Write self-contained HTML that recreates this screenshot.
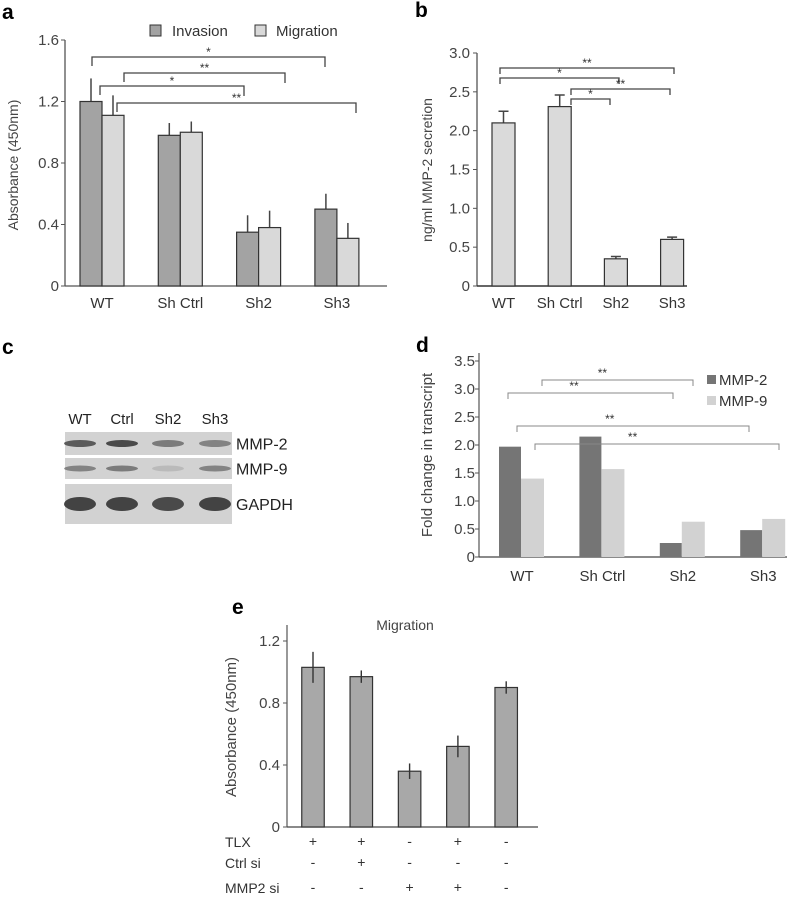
<!DOCTYPE html>
<html><head><meta charset="utf-8"><style>
body{margin:0;background:#fff}
svg{display:block;font-family:"Liberation Sans",sans-serif}
</style></head><body>
<svg id="fig" width="794" height="900" viewBox="0 0 794 900">
<g fill="#000" font-weight="bold" font-size="21">
<text x="2" y="19">a</text>
<text x="415" y="17">b</text>
<text x="2" y="354">c</text>
<text x="416" y="352">d</text>
<text x="232" y="614">e</text>
</g>
<g id="ga"></g>
<g id="gb"></g>
<g id="gc"></g>
<g id="gd"></g>
<g id="ge"></g>
</svg>
<script>
// Panel a data
const aCategories=["WT","Sh Ctrl","Sh2","Sh3"];
const aInvasion=[1.2,0.98,0.35,0.5];
const aInvasionErr=[0.15,0.08,0.11,0.1];
const aMigration=[1.11,1.0,0.38,0.31];
const aMigrationErr=[0.13,0.07,0.11,0.1];
const aTicks=[0,0.4,0.8,1.2,1.6];
// Panel b data
const bCategories=["WT","Sh Ctrl","Sh2","Sh3"];
const bValues=[2.1,2.31,0.35,0.6];
const bErr=[0.15,0.15,0.03,0.03];
const bTicks=[0,0.5,1.0,1.5,2.0,2.5,3.0];
// Panel d data
const dCategories=["WT","Sh Ctrl","Sh2","Sh3"];
const dMMP2=[1.97,2.15,0.25,0.48];
const dMMP9=[1.4,1.57,0.63,0.68];
const dTicks=[0,0.5,1.0,1.5,2.0,2.5,3.0,3.5];
// Panel e data
const eValues=[1.03,0.97,0.36,0.52,0.9];
const eErr=[0.1,0.04,0.05,0.07,0.04];
const eTicks=[0,0.4,0.8,1.2];
const eTLX=["+","+","-","+","-"];
const eCtrl=["-","+","-","-","-"];
const eMMP2=["-","-","+","+","-"];

const NS="http://www.w3.org/2000/svg";
function mk(parent,tag,attrs,text){const e=document.createElementNS(NS,tag);for(const k in attrs)e.setAttribute(k,attrs[k]);if(text!==undefined)e.textContent=text;parent.appendChild(e);return e;}
function fmt(v,d){return v===0?"0":v.toFixed(d);}

// ---------- Panel a ----------
(function(){
const g=document.getElementById('ga');
const x0=65,x1=387,yTop=40,yBot=286,vmax=1.6;
const y=v=>yBot-(v/vmax)*(yBot-yTop);
const cx=i=>102+i*78.3;
let l=mk(g,'line',{x1:x0,y1:yTop,x2:x0,y2:yBot,stroke:'#555','stroke-width':1.3});

l=mk(g,'line',{x1:x0,y1:yBot,x2:x1,y2:yBot,stroke:'#555','stroke-width':1.3});

aTicks.forEach(t=>{
 mk(g,'line',{x1:x0-4,y1:y(t),x2:x0,y2:y(t),stroke:'#555'});
 const tx=mk(g,'text',{x:x0-6,y:y(t)+5,'text-anchor':'end','font-size':15,fill:'#444'},fmt(t,1));
 
});
const yt=mk(g,'text',{x:0,y:0,transform:'translate(18,165) rotate(-90)','text-anchor':'middle','font-size':14,fill:'#444'},'Absorbance (450nm)');

aCategories.forEach((c,i)=>{
 const bw=22;
 [[aInvasion,aInvasionErr,'#a3a3a3',-bw,'invasion'],[aMigration,aMigrationErr,'#d9d9d9',0,'migration']].forEach(s=>{
  const v=s[0][i],e=s[1][i];
  const ex=cx(i)+s[3]+bw/2;
  const el=mk(g,'line',{x1:ex,y1:y(v),x2:ex,y2:y(v+e),stroke:'#444','stroke-width':1.5});
  
  const r=mk(g,'rect',{x:cx(i)+s[3],y:y(v),width:bw,height:yBot-y(v),fill:s[2],stroke:'#333','stroke-width':1.2});
  
 });
 const t=mk(g,'text',{x:cx(i),y:308,'text-anchor':'middle','font-size':15,fill:'#333'},c);
 
});
[[57,92,325,'*'],[73,124,285,'**'],[86,100,244,'*'],[103,117,356,'**']].forEach(b=>{
 const p=mk(g,'path',{d:`M${b[1]},${b[0]+9}V${b[0]}H${b[2]}V${b[0]+10}`,fill:'none',stroke:'#444','stroke-width':1.3});
 
 mk(g,'text',{x:(b[1]+b[2])/2,y:b[0]-1,'text-anchor':'middle','font-size':12,fill:'#333'},b[3]);
});
let lg=mk(g,'rect',{x:150,y:25,width:11,height:11,fill:'#a3a3a3',stroke:'#333'});

mk(g,'text',{x:172,y:36,'font-size':15,fill:'#333'},'Invasion');
lg=mk(g,'rect',{x:255,y:25,width:11,height:11,fill:'#d9d9d9',stroke:'#333'});

mk(g,'text',{x:276,y:36,'font-size':15,fill:'#333'},'Migration');
})();

// ---------- Panel b ----------
(function(){
const g=document.getElementById('gb');
const x0=477,x1=687,yTop=53,yBot=286,vmax=3.0;
const y=v=>yBot-(v/vmax)*(yBot-yTop);
const cx=i=>503.5+i*56.2;
let l=mk(g,'line',{x1:x0,y1:yTop,x2:x0,y2:yBot,stroke:'#555','stroke-width':1.3});

l=mk(g,'line',{x1:x0,y1:yBot,x2:x1,y2:yBot,stroke:'#333','stroke-width':1.6});

bTicks.forEach(t=>{
 mk(g,'line',{x1:x0-4,y1:y(t),x2:x0,y2:y(t),stroke:'#555'});
 const tx=mk(g,'text',{x:x0-7,y:y(t)+5,'text-anchor':'end','font-size':15,fill:'#444'},fmt(t,1));
 
});
const yt=mk(g,'text',{x:0,y:0,transform:'translate(432,170) rotate(-90)','text-anchor':'middle','font-size':14,fill:'#444'},'ng/ml MMP-2 secretion');

bCategories.forEach((c,i)=>{
 const v=bValues[i],e=bErr[i],bw=23,xc=cx(i);
 const el=mk(g,'path',{d:`M${xc},${y(v)}V${y(v+e)}M${xc-5},${y(v+e)}H${xc+5}`,stroke:'#444','stroke-width':1.5,fill:'none'});
 
 const r=mk(g,'rect',{x:xc-bw/2,y:y(v),width:bw,height:yBot-y(v),fill:'#dadada',stroke:'#333','stroke-width':1.2});
 
 const t=mk(g,'text',{x:xc,y:308,'text-anchor':'middle','font-size':15,fill:'#333'},c);
 
});
[[68,500,674,'**'],[78,500,619,'*'],[89,571,670,'**'],[99,571,610,'*']].forEach(b=>{
 const p=mk(g,'path',{d:`M${b[1]},${b[0]+6}V${b[0]}H${b[2]}V${b[0]+6}`,fill:'none',stroke:'#444','stroke-width':1.3});
 
 mk(g,'text',{x:(b[1]+b[2])/2,y:b[0]-1,'text-anchor':'middle','font-size':12,fill:'#333'},b[3]);
});
})();

// ---------- Panel c (blot) ----------
(function(){
const g=document.getElementById('gc');
const lanes=["WT","Ctrl","Sh2","Sh3"];
const laneX=[80,122,168,215];
lanes.forEach((n,i)=>{const t=mk(g,'text',{x:laneX[i],y:424,'text-anchor':'middle','font-size':15,fill:'#222'},n);
 });
const rows=[["MMP-2",432,455,[0.75,0.85,0.55,0.5],3.5],["MMP-9",458,479,[0.5,0.55,0.15,0.5],3],["GAPDH",484,524,[0.9,0.9,0.85,0.9],7]];
rows.forEach(r=>{
 const bx=mk(g,'rect',{x:65,y:r[1],width:167,height:r[2]-r[1],fill:'#d2d2d2'});
 
 const cy=(r[1]+r[2])/2;
 laneX.forEach((x,i)=>{mk(g,'ellipse',{cx:x,cy:cy,rx:16,ry:r[4],fill:'#333','opacity':r[3][i]});});
 const t=mk(g,'text',{x:236,y:cy+6,'font-size':16,fill:'#222'},r[0]);
 
});
})();

// ---------- Panel d ----------
(function(){
const g=document.getElementById('gd');
const x0=479,x1=787,yTop=361,yBot=557,vmax=3.5;
const y=v=>yBot-(v/vmax)*(yBot-yTop);
const cx=i=>521+i*80.4;
let l=mk(g,'line',{x1:x0,y1:yTop-8,x2:x0,y2:yBot,stroke:'#555','stroke-width':1.2});

l=mk(g,'line',{x1:x0,y1:yBot,x2:x1,y2:yBot,stroke:'#444','stroke-width':1.3});

dTicks.forEach(t=>{
 mk(g,'line',{x1:x0-4,y1:y(t),x2:x0,y2:y(t),stroke:'#555'});
 const tx=mk(g,'text',{x:x0-4,y:y(t)+5,'text-anchor':'end','font-size':15,fill:'#444'},fmt(t,1));
 
});
const yt=mk(g,'text',{x:0,y:0,transform:'translate(432,455) rotate(-90)','text-anchor':'middle','font-size':15,fill:'#444'},'Fold change in transcript');

dCategories.forEach((c,i)=>{
 const bw=22;
 let r=mk(g,'rect',{x:cx(i)-bw,y:y(dMMP2[i]),width:bw,height:yBot-y(dMMP2[i]),fill:'#757575'});
 
 r=mk(g,'rect',{x:cx(i),y:y(dMMP9[i]),width:bw+1,height:yBot-y(dMMP9[i]),fill:'#d2d2d2'});
 
 const t=mk(g,'text',{x:cx(i)+1,y:581,'text-anchor':'middle','font-size':15,fill:'#333'},c);
 
});
[[380,542,693],[393,508,673],[426,517,749],[444,535,779]].forEach(b=>{
 const p=mk(g,'path',{d:`M${b[1]},${b[0]+6}V${b[0]}H${b[2]}V${b[0]+6}`,fill:'none',stroke:'#888','stroke-width':1});
 
 mk(g,'text',{x:b[1]+(b[2]-b[1])*0.4,y:b[0]-3,'text-anchor':'middle','font-size':12,fill:'#333'},'**');
});
let s=mk(g,'rect',{x:707,y:375,width:9,height:9,fill:'#757575'});

mk(g,'text',{x:719,y:385,'font-size':15,fill:'#333'},'MMP-2');
s=mk(g,'rect',{x:707,y:396,width:9,height:9,fill:'#d2d2d2'});

mk(g,'text',{x:719,y:406,'font-size':15,fill:'#333'},'MMP-9');
})();

// ---------- Panel e ----------
(function(){
const g=document.getElementById('ge');
const x0=287,x1=538,yTop=641,yBot=827,vmax=1.2;
const y=v=>yBot-(v/vmax)*(yBot-yTop);
const cx=i=>313+i*48.3;
let l=mk(g,'line',{x1:x0,y1:625,x2:x0,y2:yBot,stroke:'#555','stroke-width':1.2});

l=mk(g,'line',{x1:x0,y1:yBot,x2:x1,y2:yBot,stroke:'#444','stroke-width':1.3});

eTicks.forEach(t=>{
 mk(g,'line',{x1:x0-4,y1:y(t),x2:x0,y2:y(t),stroke:'#555'});
 const tx=mk(g,'text',{x:x0-7,y:y(t)+5,'text-anchor':'end','font-size':15,fill:'#444'},fmt(t,1));
 
});
const yt=mk(g,'text',{x:0,y:0,transform:'translate(236,727) rotate(-90)','text-anchor':'middle','font-size':15,fill:'#444'},'Absorbance (450nm)');

const tt=mk(g,'text',{x:405,y:630,'text-anchor':'middle','font-size':14,fill:'#444'},'Migration');

eValues.forEach((v,i)=>{
 const bw=22.5,xc=cx(i);
 const r=mk(g,'rect',{x:xc-bw/2,y:y(v),width:bw,height:yBot-y(v),fill:'#a8a8a8',stroke:'#333','stroke-width':1.2});
 
 const el=mk(g,'line',{x1:xc,y1:y(v-eErr[i]),x2:xc,y2:y(v+eErr[i]),stroke:'#333','stroke-width':1.4});
 
 [[eTLX,846],[eCtrl,867],[eMMP2,892]].forEach(rw=>{
  mk(g,'text',{x:xc,y:rw[1],'text-anchor':'middle','font-size':14,fill:'#333'},rw[0][i]);
 });
});
[["TLX",847],["Ctrl si",868],["MMP2 si",893]].forEach(r=>{
 const t=mk(g,'text',{x:225,y:r[1],'font-size':14,fill:'#333'},r[0]);
 
});
})();
</script>
</body></html>
